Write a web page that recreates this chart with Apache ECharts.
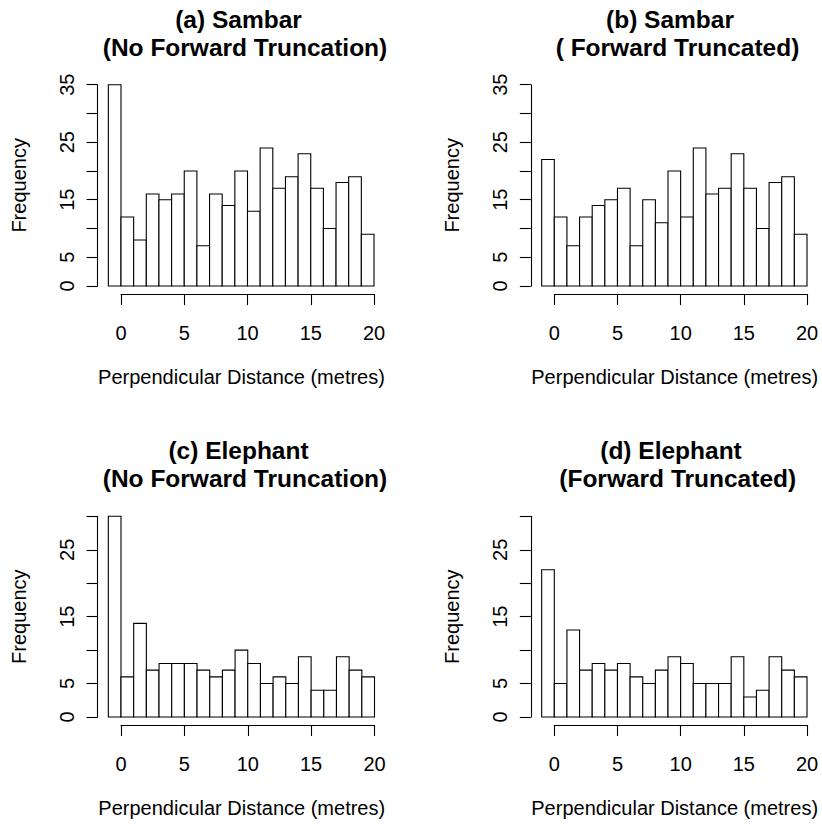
<!DOCTYPE html>
<html>
<head>
<meta charset="utf-8">
<script src="https://cdn.jsdelivr.net/npm/echarts@6/dist/echarts.min.js"></script>
<style>
html,body{margin:0;padding:0;background:#fff;}
#chart{width:822px;height:827px;}
</style>
</head>
<body>
<div id="chart"></div>
<script>
// Histogram bins (width 1 m), left edges
const binStarts = [-1,0,1,2,3,4,5,6,7,8,9,10,11,12,13,14,15,16,17,18,19];
const binWidth = 1;

// Frequencies
const sambarNoTrunc   = [35,12,8,16,15,16,20,7,16,14,20,13,24,17,19,23,17,10,18,19,9];
const sambarTrunc     = [22,12,7,12,14,15,17,7,15,11,20,12,24,16,17,23,17,10,18,19,9];
const elephantNoTrunc = [30,6,14,7,8,8,8,7,6,7,10,8,5,6,5,9,4,4,9,7,6];
const elephantTrunc   = [22,5,13,7,8,7,8,6,5,7,9,8,5,5,5,9,3,4,9,7,6];

// Axis ticks / labels
const xTickLabels = [0,5,10,15,20];
const yLabelsSambar = [0,5,15,25,35];
const yLabelsElephant = [0,5,15,25];
const yMaxSambar = 35, yMaxElephant = 30;

const titles1 = ['(a) Sambar','(b) Sambar','(c) Elephant','(d) Elephant'];
const titles2 = ['(No Forward Truncation)','( Forward Truncated)','(No Forward Truncation)','(Forward Truncated)'];
const xName = 'Perpendicular Distance (metres)';
const yName = 'Frequency';

const FONT = '"Liberation Sans", Arial, Helvetica, sans-serif';

const panels = [
  {data: sambarNoTrunc,   ymax: yMaxSambar,   ylabels: yLabelsSambar,   left:121, top:84.7,  width:253, height:201.3, t1:[238.5,19],  t2:[245,47]},
  {data: sambarTrunc,     ymax: yMaxSambar,   ylabels: yLabelsSambar,   left:554.3, top:84.7, width:252.7, height:201.3, t1:[670,19], t2:[677.5,47]},
  {data: elephantNoTrunc, ymax: yMaxElephant, ylabels: yLabelsElephant, left:121, top:516.3, width:253.5, height:200.7, t1:[238.5,450.3], t2:[245,478.7]},
  {data: elephantTrunc,   ymax: yMaxElephant, ylabels: yLabelsElephant, left:554.3, top:516.3, width:252.7, height:200.7, t1:[671,450.3], t2:[677.7,478.7]}
];

const grid = [], xAxis = [], yAxis = [], series = [], graphic = [];

panels.forEach((p, i) => {
  grid.push({left: p.left, top: p.top, width: p.width, height: p.height, containLabel: false});
  xAxis.push({
    type: 'value', gridIndex: i, min: 0, max: 20, interval: 5, offset: 8,
    axisLine: {show: true, onZero: false, lineStyle: {color: '#000', width: 1.1}},
    axisTick: {show: true, length: 11, lineStyle: {color: '#000', width: 1.1}},
    axisLabel: {show: true, margin: 29, color: '#000', fontSize: 20, fontFamily: FONT,
      formatter: v => xTickLabels.indexOf(v) >= 0 ? String(v) : ''},
    splitLine: {show: false},
    name: xName, nameLocation: 'middle', nameGap: 73,
    nameTextStyle: {color: '#000', fontSize: 20, fontFamily: FONT, padding: [0, 12, 0, 0]}
  });
  yAxis.push({
    type: 'value', gridIndex: i, min: 0, max: p.ymax, interval: 5, offset: 23.5,
    axisLine: {show: true, onZero: false, lineStyle: {color: '#000', width: 1.1}},
    axisTick: {show: true, length: 11, lineStyle: {color: '#000', width: 1.1}},
    axisLabel: {show: true, rotate: 90, margin: 21, color: '#000', fontSize: 20, fontFamily: FONT,
      formatter: v => p.ylabels.indexOf(v) >= 0 ? String(v) : ''},
    splitLine: {show: false},
    name: yName, nameLocation: 'middle', nameGap: 69, nameRotate: 90,
    nameTextStyle: {color: '#000', fontSize: 20, fontFamily: FONT}
  });
  series.push({
    type: 'custom', xAxisIndex: i, yAxisIndex: i, clip: false,
    data: binStarts.map((b, k) => [b, b + binWidth, p.data[k]]),
    encode: {x: [0, 1], y: 2},
    renderItem: function (params, api) {
      const tl = api.coord([api.value(0), api.value(2)]);
      const br = api.coord([api.value(1), 0]);
      return {
        type: 'rect',
        shape: {x: tl[0], y: tl[1], width: br[0] - tl[0], height: br[1] - tl[1]},
        style: {fill: '#fff', stroke: '#000', lineWidth: 1.1}
      };
    }
  });
  graphic.push({type: 'text', x: p.t1[0], y: p.t1[1],
    style: {text: titles1[i], fill: '#000', font: 'bold 24.5px ' + FONT, textAlign: 'center', textVerticalAlign: 'middle'}});
  graphic.push({type: 'text', x: p.t2[0], y: p.t2[1],
    style: {text: titles2[i], fill: '#000', font: 'bold 24.5px ' + FONT, textAlign: 'center', textVerticalAlign: 'middle'}});
});

const chart = echarts.init(document.getElementById('chart'), null, {renderer: 'svg'});
chart.setOption({
  animation: false,
  backgroundColor: '#fff',
  grid, xAxis, yAxis, series, graphic
});
</script>
</body>
</html>
